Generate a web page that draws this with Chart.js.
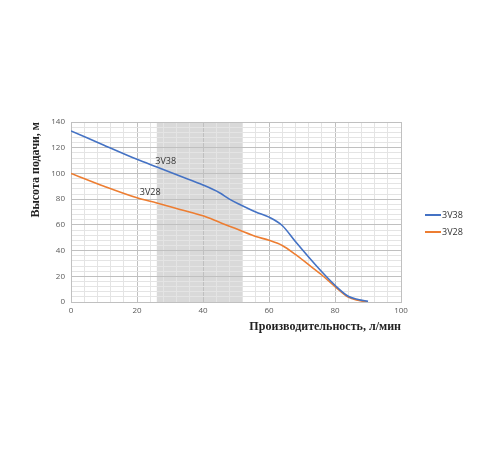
<!DOCTYPE html>
<html>
<head>
<meta charset="utf-8">
<script src="https://cdn.jsdelivr.net/npm/chart.js@4"></script>
<style>
  html, body { margin: 0; padding: 0; background: #ffffff; }
  #wrap { width: 500px; height: 450px; }
</style>
</head>
<body>
<div id="wrap"><canvas id="chart"></canvas></div>
<script>
const seriesNames = ["3V38", "3V28"];
const flowV38 = [0, 10, 20, 26, 33, 40, 45, 48, 51, 56, 60, 64, 68, 72, 76, 80, 84, 87, 90];
const headV38 = [133, 122, 111, 105, 98, 91, 85, 80, 76, 70, 66, 59.5, 47, 35, 23.5, 13, 4.5, 2, 0.5];
const flowV28 = [0, 10, 20, 26, 33, 40, 45, 48, 51, 56, 60, 64, 68, 72, 76, 80, 84, 87, 90];
const headV28 = [100, 90, 81, 77, 72, 67, 62, 59, 56, 51, 48, 44, 37, 29, 21, 12, 3.8, 1.3, 0];
const seriesColors = ["#4472C4", "#ED7D31"];
const bandRange = [26, 52];
const lineLabels = [
  { text: "3V38", x: 28.7, y: 109.5 },
  { text: "3V28", x: 24, y: 85.5 }
];

const toPoints = (xs, ys) => xs.map((x, i) => ({ x: x, y: ys[i] }));

// grey operating band behind the grid
const bandPlugin = {
  id: "band",
  beforeDraw(chart) {
    const { ctx, chartArea, scales } = chart;
    const x0 = scales.x.getPixelForValue(bandRange[0]);
    const x1 = scales.x.getPixelForValue(bandRange[1]);
    ctx.save();
    ctx.fillStyle = "#d9d9d9";
    ctx.fillRect(x0, chartArea.top, x1 - x0, chartArea.bottom - chartArea.top);
    ctx.restore();
  }
};

// curve names written next to the lines + legend on the right
const labelPlugin = {
  id: "labels",
  afterDatasetsDraw(chart) {
    const { ctx, scales, chartArea } = chart;
    ctx.save();
    ctx.font = "9px 'Open Sans', sans-serif";
    ctx.fillStyle = "#333333";
    ctx.textBaseline = "middle";
    lineLabels.forEach((l) => {
      ctx.textAlign = "center";
      ctx.fillText(l.text, scales.x.getPixelForValue(l.x), scales.y.getPixelForValue(l.y));
    });
    // legend
    const lx = chartArea.right + 24;
    chart.data.datasets.forEach((ds, i) => {
      const ly = 215 + i * 17;
      ctx.strokeStyle = ds.borderColor;
      ctx.lineWidth = 2;
      ctx.beginPath();
      ctx.moveTo(lx, ly);
      ctx.lineTo(lx + 16, ly);
      ctx.stroke();
      ctx.textAlign = "left";
      ctx.fillStyle = "#333333";
      ctx.fillText(ds.label, lx + 17, ly);
    });
    ctx.restore();
  }
};

const gridColor = (ctx) => (ctx.tick && ctx.tick.value % 20 === 0) ? "#c0c0c0" : "#e4e4e4";
const tickLabel = (v) => (v % 20 === 0 ? String(v) : "");

new Chart(document.getElementById("chart"), {
  type: "line",
  data: {
    datasets: [
      {
        label: seriesNames[0],
        data: toPoints(flowV38, headV38),
        borderColor: seriesColors[0],
        backgroundColor: seriesColors[0],
        borderWidth: 1.6,
        pointRadius: 0,
        cubicInterpolationMode: "monotone"
      },
      {
        label: seriesNames[1],
        data: toPoints(flowV28, headV28),
        borderColor: seriesColors[1],
        backgroundColor: seriesColors[1],
        borderWidth: 1.6,
        pointRadius: 0,
        cubicInterpolationMode: "monotone"
      }
    ]
  },
  options: {
    responsive: true,
    maintainAspectRatio: false,
    animation: false,
    layout: { padding: { top: 122, right: 99, bottom: 116, left: 29 } },
    plugins: {
      legend: { display: false },
      tooltip: { enabled: false }
    },
    scales: {
      x: {
        type: "linear",
        min: 0,
        max: 100,
        ticks: {
          stepSize: 4,
          autoSkip: false,
          maxRotation: 0,
          color: "#595959",
          font: { family: "'Open Sans', sans-serif", size: 8 },
          padding: 4,
          callback: tickLabel
        },
        grid: { color: gridColor, drawTicks: false },
        border: { color: "#c0c0c0" },
        title: {
          display: true,
          text: "Производительность, л/мин",
          align: "end",
          color: "#222222",
          font: { family: "'Liberation Serif', serif", size: 12, weight: "bold" },
          padding: { top: 0, bottom: 0 }
        }
      },
      y: {
        min: 0,
        max: 140,
        ticks: {
          stepSize: 4,
          autoSkip: false,
          color: "#595959",
          font: { family: "'Open Sans', sans-serif", size: 8 },
          padding: 6,
          callback: tickLabel
        },
        grid: { color: gridColor, drawTicks: false },
        border: { color: "#c0c0c0" },
        title: {
          display: true,
          text: "Высота подачи, м",
          align: "end",
          color: "#222222",
          font: { family: "'Liberation Serif', serif", size: 12, weight: "bold" },
          padding: { top: 0, bottom: 4 }
        },
        afterFit(scale) { scale.width = 42; }
      }
    }
  },
  plugins: [bandPlugin, labelPlugin]
});
</script>
</body>
</html>
